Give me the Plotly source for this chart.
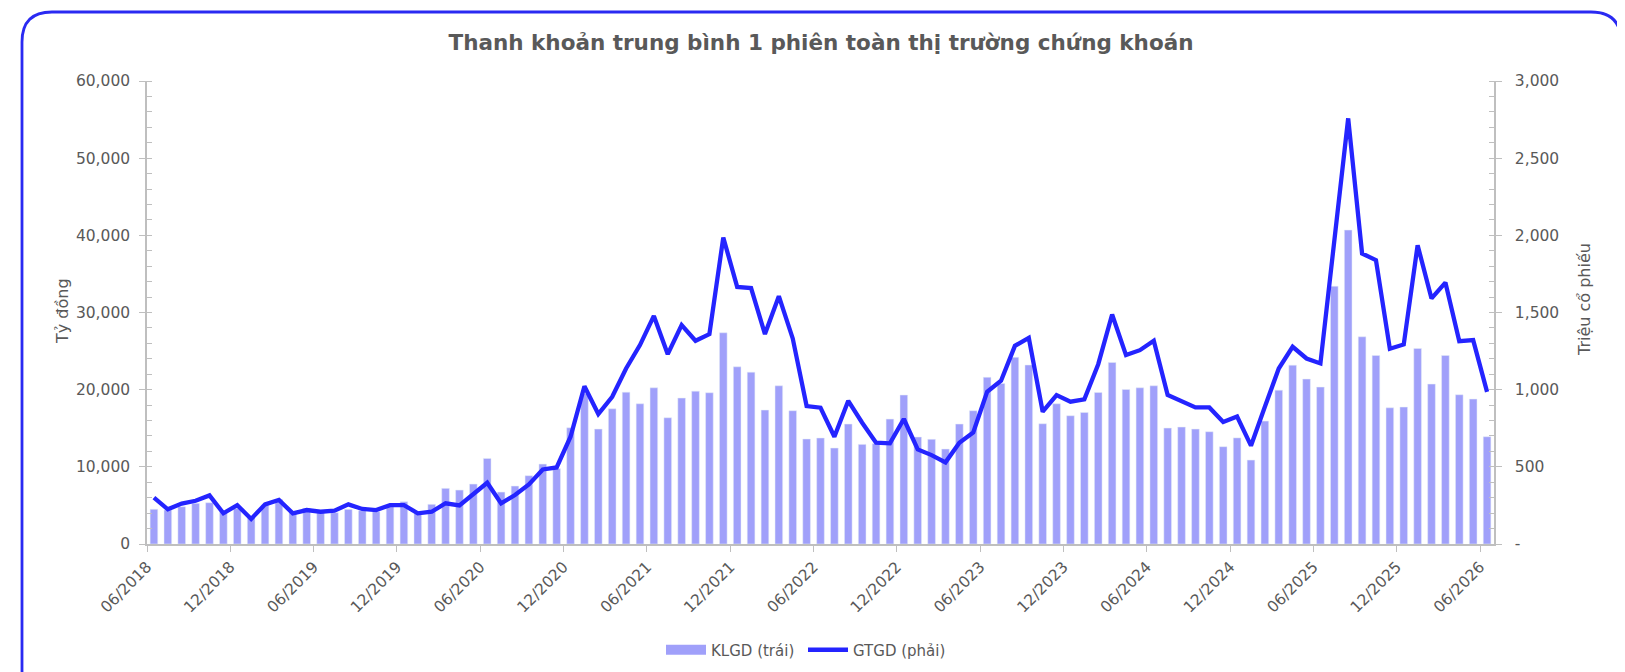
import numpy as np
import plotly.graph_objects as go

# monthly data, 06/2018 -> 06/2026
klgd = [
    4500, 4400, 4830, 5270, 5350, 4190, 4620, 3450, 5050, 5780, 4190, 4620,
    4190, 4060, 4490, 4320, 4190, 4920, 5480, 3970, 5140, 7210, 6990,
    7770, 11090, 6730, 7510, 8850, 10360, 9760, 15060, 19500, 14890, 17520,
    19680, 18170, 20240, 16360, 18910, 19810, 19600, 27370, 22960, 22270,
    17350, 20500, 17270, 13600, 13730, 12430,
    15540, 12910, 13000, 16190, 19300, 13860, 13560, 12300, 15540, 17270,
    21600, 20800, 24190, 23190, 15580, 18170, 16620, 17050, 19640, 23530,
    20030, 20240, 20500, 15020, 15150, 14890, 14550, 12610, 13750,
    10880, 15930, 19940, 23180, 21370, 20330, 33400, 40680, 26850, 24430,
    17650, 17740, 25340, 20720, 24430, 19340, 18780, 13900,
]
gtgd = [
    300, 225, 262, 280, 315, 199, 252, 162, 257, 285, 199, 220,
    209, 216, 257, 227, 220, 252, 252, 199, 209, 264,
    250, 328, 397, 263, 317, 386, 483, 496, 695, 1022, 842, 954,
    1137, 1289, 1478, 1230, 1418, 1317, 1360, 1986, 1666, 1658,
    1360, 1606, 1332, 894, 883, 695,
    928, 786, 656, 652, 810, 613, 576, 529, 656, 723,
    986, 1058, 1284, 1336, 857, 965, 922, 937, 1165, 1487,
    1224, 1256, 1317, 965, 928, 885, 885, 790, 826,
    637, 889, 1137, 1278, 1202, 1170, 1962, 2758, 1882, 1839,
    1265, 1293, 1936, 1591, 1694, 1314, 1321, 986,
]
tick_labels = [
    "06/2018", "12/2018", "06/2019", "12/2019", "06/2020", "12/2020",
    "06/2021", "12/2021", "06/2022", "12/2022", "06/2023", "12/2023",
    "06/2024", "12/2024", "06/2025", "12/2025", "06/2026",
]
right_ticks = [0, 500, 1000, 1500, 2000, 2500, 3000]
right_text = ["-", "500", "1,000", "1,500", "2,000", "2,500", "3,000"]

# page has an 8px body margin, so work in page pixels and shift back
OFF = 8
W, H = 1625 - OFF, 672 - OFF
L, R, T, B = 147 - OFF, 1494 - OFF, 81 - OFF, 544 - OFF
FONT = "DejaVu Sans"
GREY = "#595959"
AXIS = "#bfbfbf"
BAR = "#a0a0fa"
LINE = "#2424ff"

x = np.arange(len(klgd))
tickvals = [i * 6 - 0.5 for i in range(len(tick_labels))]

fig = go.Figure()
fig.add_bar(
    x=x, y=klgd, name="KLGD (trái)", showlegend=False,
    marker_color=BAR, width=0.55,
)
# legend proxy so the bar key is a wide block like the original
fig.add_scatter(
    x=[None], y=[None], name="KLGD (trái)", mode="lines",
    line=dict(color=BAR, width=12), legend="legend",
)
fig.add_scatter(
    x=x, y=gtgd, name="GTGD (phải)", yaxis="y2", mode="lines",
    line=dict(color=LINE, width=4.3), legend="legend2",
)


def px(xp, yp):
    # page pixel -> paper coords
    return (xp - OFF - L) / (R - L), (B - (yp - OFF)) / (B - T)


def P(a, b):
    u, v = px(a, b)
    return f"{u:.5f},{v:.5f}"


# rounded frame round the chart
fl, fr, ft, fb, rad = 22, 1621, 12, 700, 30
path = (
    f"M {P(fl, ft + rad)} Q {P(fl, ft)} {P(fl + rad, ft)} "
    f"L {P(fr - rad, ft)} Q {P(fr, ft)} {P(fr, ft + rad)} "
    f"L {P(fr, fb - rad)} Q {P(fr, fb)} {P(fr - rad, fb)} "
    f"L {P(fl + rad, fb)} Q {P(fl, fb)} {P(fl, fb - rad)} Z"
)
fig.add_shape(type="path", xref="paper", yref="paper", path=path,
              line=dict(color="#2a2af2", width=2.8))

lx, ly = px(62, 311)
rx, ry = px(1584, 300)
fig.add_annotation(text="Tỷ đồng", x=lx, y=ly, xref="paper", yref="paper",
                   xanchor="center", yanchor="middle",
                   textangle=-90, showarrow=False,
                   font=dict(family=FONT, size=16, color=GREY))
fig.add_annotation(text="Triệu cổ phiếu", x=rx, y=ry, xref="paper", yref="paper",
                   xanchor="center", yanchor="middle",
                   textangle=-90, showarrow=False,
                   font=dict(family=FONT, size=16, color=GREY))

leg1x, _ = px(661, 0)
leg2x, _ = px(803, 0)
tx, ty = px(821, 42)
legend_style = dict(
    orientation="h", xanchor="left",
    yref="container", y=1 - (650 - OFF) / H, yanchor="middle",
    font=dict(size=15, color=GREY), itemwidth=40,
)
fig.update_layout(
    width=W, height=H,
    margin=dict(l=L, r=W - R, t=T, b=H - B),
    paper_bgcolor="white", plot_bgcolor="white",
    font=dict(family=FONT, size=15.5, color=GREY),
    title=dict(
        text="<b>Thanh khoản trung bình 1 phiên toàn thị trường chứng khoán</b>",
        x=tx, xref="paper", xanchor="center",
        y=1 - (42 - OFF) / H, yanchor="middle",
        font=dict(family=FONT, size=21.5, color=GREY),
    ),
    showlegend=True,
    legend=dict(x=leg1x, **legend_style),
    legend2=dict(x=leg2x, **legend_style),
    xaxis=dict(
        range=[-0.5, len(klgd) - 0.5],
        tickmode="array", tickvals=tickvals, ticktext=tick_labels,
        tickangle=-45, ticks="outside", ticklen=6, tickcolor=AXIS,
        showline=True, linecolor=AXIS, linewidth=1.5,
        showgrid=False, zeroline=False,
    ),
    yaxis=dict(
        range=[0, 60000], dtick=10000, tickformat=",",
        ticks="outside", ticklen=6, tickcolor=AXIS,
        minor=dict(dtick=2000, ticks="inside", ticklen=5, tickcolor=AXIS),
        showline=True, linecolor=AXIS, linewidth=1.5,
        showgrid=False, zeroline=False, ticklabelstandoff=6,
    ),
    yaxis2=dict(
        range=[0, 3000], overlaying="y", side="right",
        tickmode="array", tickvals=right_ticks, ticktext=right_text,
        ticks="outside", ticklen=6, tickcolor=AXIS,
        minor=dict(dtick=100, ticks="inside", ticklen=5, tickcolor=AXIS),
        showline=True, linecolor=AXIS, linewidth=1.5,
        showgrid=False, zeroline=False, ticklabelstandoff=10,
    ),
)

fig.write_html("out.html")
